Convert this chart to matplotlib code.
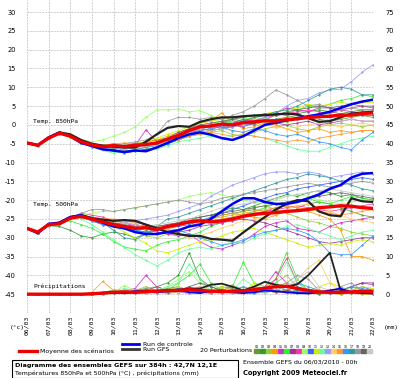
import matplotlib.pyplot as plt
import numpy as np
from matplotlib.lines import Line2D
from matplotlib.patches import Rectangle

# echeances toutes les 12h sur 384h
hours = list(range(0, 385, 12))
day_labels = ["06/03", "07/03", "08/03", "09/03", "10/03", "11/03", "12/03", "13/03", "14/03",
              "15/03", "16/03", "17/03", "18/03", "19/03", "20/03", "21/03", "22/03"]

# moyenne, controle, GFS - temperature 850hPa
t850_mean = [-4.8, -5.4, -3.5, -2.2, -3.0, -4.5, -5.3, -5.8, -5.5, -5.8, -5.4, -5.2, -4.8,
             -3.8, -2.8, -1.5, -0.5, -0.3, 0.2, 0.0, 0.6, 0.8, 1.1, 1.0, 1.4,
             1.6, 2.0, 2.2, 2.3, 2.6, 2.6, 3.0, 3.2]
t850_ctrl = [-4.8, -5.4, -3.3, -2.0, -3.0, -4.8, -5.6, -6.5, -6.8, -7.2, -6.8, -7.0, -6.0,
             -4.8, -3.5, -2.5, -2.0, -2.6, -3.5, -4.0, -3.0, -1.5, 0.0, 0.6, 1.2,
             1.8, 2.3, 2.8, 3.5, 4.5, 5.5, 6.2, 6.7]
t850_gfs = [-4.8, -5.5, -3.5, -2.0, -2.5, -4.0, -5.0, -5.5, -5.8, -6.0, -6.0, -4.5, -2.5,
            -0.8, -0.3, -0.5, 0.8, 1.5, 2.0, 2.0, 2.3, 2.5, 2.6, 2.8, 3.0,
            2.8, 1.8, 0.8, 1.0, 2.0, 3.0, 3.3, 3.5]

# moyenne, controle, GFS - temperature 500hPa
t500_mean = [-27.5, -28.5, -26.5, -26.3, -24.8, -24.3, -25.0, -25.8, -26.5, -27.0, -27.5, -27.3, -27.8,
             -27.0, -26.5, -25.8, -25.5, -25.8, -25.5, -25.0, -24.3, -23.8, -23.5, -23.3, -23.0,
             -22.8, -22.5, -22.0, -21.8, -21.5, -21.6, -22.0, -22.2]
t500_ctrl = [-27.5, -28.8, -26.3, -26.0, -24.5, -24.0, -25.0, -26.0, -27.0, -27.5, -28.5, -29.0, -29.0,
             -28.5, -28.0, -27.0, -26.5, -25.0, -23.0, -21.0, -19.5, -19.5, -20.5, -21.0, -21.0,
             -20.5, -19.5, -18.5, -17.0, -16.0, -14.0, -13.0, -12.8]
t500_gfs = [-27.5, -28.5, -26.5, -26.0, -24.5, -24.0, -24.8, -25.2, -25.5, -25.3, -25.5, -26.5, -27.5,
            -28.5, -29.0, -29.5, -29.5, -30.3, -30.5, -30.8, -28.6, -26.5, -24.5, -22.5, -21.0,
            -20.0, -20.3, -23.0, -24.0, -24.3, -19.5, -20.3, -20.5]

# precipitations (mm)
pr_mean = [0, 0, 0, 0, 0, 0, 0.1, 0.3, 0.5, 0.6, 0.5, 0.7, 0.8, 1.0, 1.0, 1.2, 1.0, 0.8, 0.7, 0.8,
           0.9, 1.2, 1.6, 2.0, 2.1, 1.5, 1.0, 0.6, 0.5, 0.5, 0.6, 0.8, 0.7]
pr_ctrl = [0, 0, 0, 0, 0, 0, 0, 0.2, 0.5, 0.3, 0.8, 1.0, 0.5, 0.8, 1.2, 0.5, 0.3, 0.8, 1.0, 0.5,
           0.3, 0.5, 1.0, 0.8, 0.5, 0.3, 0.2, 0.5, 1.0, 1.5, 0.5, 0.3, 0.2]
pr_gfs = [0, 0, 0, 0, 0, 0, 0, 0.3, 0.5, 0.3, 0.5, 0.5, 0.8, 1.0, 1.2, 1.5, 1.5, 2.5, 2.8, 2.0,
          1.0, 2.0, 3.3, 2.5, 2.0, 2.6, 5.0, 8.0, 11.0, 1.0, 0.5, 0.8, 0.5]

# 20 perturbations - 850hPa
t850_p01 = [-4.8, -5.3, -3.4, -2.3, -3.2, -4.6, -5.5, -6.0, -6.2, -5.8, -5.0, -4.5, -4.0, -3.5, -2.5, -1.0, -0.5, 0.0, 0.5, 1.0, 0.5, 0.0, 1.0, 1.5, 2.0, 2.5, 2.0, 1.5, 1.0, 1.5, 2.0, 2.5, 2.0]
t850_p02 = [-4.9, -5.5, -3.6, -2.1, -2.9, -4.3, -5.0, -5.5, -5.0, -5.5, -6.0, -5.5, -5.0, -4.0, -3.0, -2.0, -1.0, -1.5, -1.0, 0.0, 1.0, 2.0, 2.5, 3.0, 2.5, 3.0, 3.5, 4.0, 3.5, 3.0, 3.5, 4.0, 4.0]
t850_p03 = [-4.8, -5.4, -3.5, -2.4, -3.1, -4.7, -5.6, -6.5, -7.0, -6.5, -6.0, -6.5, -6.0, -5.0, -4.0, -3.0, -2.5, -2.0, -1.5, -2.5, -3.0, -2.0, -1.0, -0.5, 0.0, -1.0, -1.5, -0.5, 0.0, 0.5, 0.0, -0.5, 0.0]
t850_p04 = [-4.7, -5.3, -3.4, -2.2, -3.0, -4.4, -5.2, -5.5, -5.0, -4.8, -5.0, -4.5, -4.0, -3.0, -2.0, -1.0, 0.5, 1.0, 3.2, 0.5, -1.0, -0.5, 0.5, 0.0, -1.0, -2.0, -1.5, -1.0, -2.0, -1.5, -2.0, -1.5, -1.5]
t850_p05 = [-4.8, -5.4, -3.6, -2.3, -3.0, -4.5, -5.3, -5.6, -5.5, -6.0, -5.5, -1.3, -4.5, -3.5, -2.5, -1.5, -0.5, 0.0, -0.5, 0.5, 1.0, 1.5, 1.0, 3.0, 4.5, 4.0, 3.5, 4.5, 4.5, 4.0, 3.5, 3.0, 3.0]
t850_p06 = [-4.9, -5.5, -3.5, -2.1, -2.8, -4.2, -5.0, -5.8, -6.0, -6.8, -7.0, -6.5, -6.0, -5.0, -3.5, -2.0, -1.0, 0.0, 1.0, 0.5, 1.5, 2.0, 1.5, 2.5, 3.0, 4.0, 5.0, 4.5, 5.5, 6.5, 7.0, 8.0, 7.5]
t850_p07 = [-4.8, -5.4, -3.5, -2.2, -3.0, -4.6, -5.4, -6.0, -5.5, -6.0, -5.5, -5.0, -5.5, -4.5, -3.0, -2.0, -1.5, -1.0, -0.5, 0.0, -0.5, 0.5, 1.0, 0.5, 0.0, 0.5, 1.0, 0.0, 0.5, 1.0, 1.5, 1.0, 1.0]
t850_p08 = [-4.8, -5.4, -3.5, -2.2, -3.0, -4.5, -5.2, -5.5, -5.8, -5.5, -5.0, -5.5, -5.0, -4.0, -3.0, -2.0, -1.0, -0.5, 0.0, 0.5, 1.5, 1.0, 2.0, 2.5, 3.0, 3.5, 4.0, 3.5, 3.0, 4.0, 4.5, 5.0, 4.5]
t850_p09 = [-4.8, -5.4, -3.5, -2.2, -3.0, -4.0, -4.5, -4.0, -3.0, -2.0, -0.5, 2.0, 4.0, 4.0, 4.2, 3.5, 3.8, 2.5, 1.5, 1.0, 2.0, 1.5, 0.5, 1.0, 0.5, 1.5, 2.0, 3.0, 2.5, 2.0, 3.0, 3.5, 3.0]
t850_p10 = [-4.8, -5.4, -3.5, -2.2, -3.0, -4.8, -5.8, -6.5, -7.0, -7.5, -7.0, -6.5, -6.0, -5.0, -4.0, -3.0, -2.0, -1.5, -1.0, -0.5, 0.0, 0.5, 1.0, 1.5, 1.0, 1.5, 2.0, 2.5, 2.0, 2.5, 3.0, 2.5, 2.5]
t850_p11 = [-4.8, -5.4, -3.5, -2.2, -3.0, -4.4, -5.0, -5.5, -6.0, -5.5, -5.0, -4.5, -3.5, -2.5, -1.5, -0.5, 0.5, 1.0, 1.5, 2.0, 2.5, 2.0, 3.0, 3.5, 4.0, 4.5, 5.5, 5.0, 5.5, 6.0, 5.5, 6.0, 6.0]
t850_p12 = [-4.8, -5.4, -3.5, -2.2, -3.0, -4.9, -5.9, -6.8, -7.5, -7.0, -6.5, -6.0, -6.5, -5.5, -4.5, -4.0, -3.5, -3.0, -3.5, -3.0, -2.5, -3.0, -3.5, -4.5, -5.5, -6.5, -7.0, -7.0, -6.0, -5.0, -4.0, -3.5, -3.0]
t850_p13 = [-4.8, -5.4, -3.5, -2.2, -3.0, -4.5, -5.5, -6.0, -6.0, -6.5, -6.0, -5.5, -5.0, -4.0, -3.5, -2.5, -1.5, -1.0, 0.0, -0.5, 0.5, 1.0, 2.0, 3.0, 5.0, 6.5, 7.0, 8.5, 9.3, 9.5, 11.5, 14.0, 16.0]
t850_p14 = [-4.8, -5.4, -3.5, -2.2, -3.0, -4.6, -5.5, -6.0, -5.5, -6.0, -6.5, -6.0, -5.5, -4.5, -3.5, -2.5, -2.0, -1.5, -1.0, -1.5, -2.0, -1.0, 0.0, -0.5, -1.0, -0.5, 0.0, 0.5, 0.0, -0.5, 0.0, 0.5, 0.0]
t850_p15 = [-4.8, -5.4, -3.5, -2.2, -3.0, -4.3, -5.0, -5.3, -5.8, -5.5, -6.0, -5.8, -5.2, -4.5, -4.0, -3.0, -2.5, -2.0, -2.5, -3.0, -2.5, -3.0, -3.5, -4.0, -4.5, -4.0, -4.5, -3.5, -3.0, -2.5, -2.0, -1.5, -1.5]
t850_p16 = [-4.8, -5.4, -3.5, -2.2, -3.0, -4.7, -5.8, -6.2, -6.5, -6.0, -6.5, -6.0, -5.5, -4.5, -3.0, -2.0, -1.5, -1.0, -0.5, -1.5, -2.0, -1.0, -1.5, -2.5, -3.0, -2.5, -3.5, -4.5, -5.0, -6.0, -6.6, -4.0, -2.0]
t850_p17 = [-4.8, -5.4, -3.5, -2.2, -3.0, -4.5, -5.2, -5.8, -6.0, -5.5, -5.0, -5.5, -5.0, -4.0, -3.0, -1.5, -1.0, -0.5, 0.5, 1.5, 1.0, 2.0, 2.5, 3.5, 4.0, 5.0, 6.5, 8.0, 9.5, 10.0, 9.5, 8.0, 8.0]
t850_p18 = [-4.8, -5.4, -3.5, -2.2, -3.0, -4.4, -5.2, -5.5, -5.5, -5.0, -4.5, -4.0, -2.5, 1.0, 2.0, 2.0, 1.5, 2.0, 1.5, 2.5, 3.5, 5.0, 7.0, 9.3, 8.0, 6.5, 5.0, 5.5, 4.5, 4.0, 4.5, 4.0, 4.0]
t850_p19 = [-4.8, -5.4, -3.5, -2.2, -3.0, -4.5, -5.4, -5.8, -6.2, -6.0, -5.8, -5.5, -5.0, -3.5, -2.0, -1.0, 0.0, 0.5, 1.0, 1.5, 2.0, 2.5, 3.0, 2.5, 3.5, 4.0, 4.5, 5.0, 4.5, 5.0, 5.5, 5.0, 5.0]
t850_p20 = [-4.8, -5.4, -3.5, -2.2, -3.0, -4.6, -5.6, -6.2, -6.0, -6.5, -6.0, -5.5, -5.5, -4.5, -3.5, -2.0, -1.0, -0.5, 0.0, 0.5, 0.0, 1.0, 1.5, 1.0, 1.5, 2.0, 1.5, 1.0, 1.5, 1.0, 1.5, 1.0, 1.0]

# 20 perturbations - 500hPa
t500_p01 = [-27.5, -28.8, -26.5, -26.2, -24.8, -24.5, -25.0, -25.5, -26.5, -27.0, -27.5, -28.0, -27.5, -27.0, -26.5, -26.0, -25.5, -25.0, -24.0, -23.5, -23.0, -22.5, -23.0, -22.0, -21.5, -22.0, -21.0, -20.5, -21.0, -22.0, -23.0, -24.0, -24.5]
t500_p02 = [-27.5, -28.8, -26.8, -27.0, -28.0, -29.5, -30.0, -29.0, -28.5, -29.0, -30.0, -29.0, -28.0, -27.0, -26.0, -25.5, -24.5, -24.0, -23.0, -22.0, -22.5, -21.5, -20.5, -19.5, -18.5, -19.0, -18.0, -17.5, -18.0, -19.0, -18.5, -19.5, -20.0]
t500_p03 = [-27.5, -28.8, -26.5, -26.2, -24.8, -24.0, -24.5, -25.5, -26.0, -27.0, -28.0, -29.5, -30.0, -29.0, -28.5, -27.0, -26.0, -25.0, -24.5, -24.0, -23.0, -22.0, -21.5, -22.5, -23.5, -24.5, -25.5, -26.0, -27.0, -27.5, -28.5, -29.0, -29.5]
t500_p04 = [-27.5, -28.8, -26.5, -26.2, -24.8, -24.5, -25.0, -26.0, -26.5, -27.5, -28.0, -28.5, -29.0, -28.5, -28.0, -27.0, -26.5, -25.0, -24.0, -23.5, -24.0, -24.5, -25.0, -24.0, -23.0, -22.5, -23.0, -24.0, -25.0, -28.0, -35.0, -35.0, -36.0]
t500_p05 = [-27.5, -28.8, -26.5, -26.2, -24.8, -24.0, -24.5, -25.0, -25.5, -26.0, -27.0, -27.5, -28.5, -29.0, -29.5, -29.0, -31.0, -32.5, -33.0, -32.0, -31.0, -29.0, -27.0, -26.0, -25.5, -27.5, -28.0, -28.5, -27.0, -26.0, -25.5, -25.0, -24.5]
t500_p06 = [-27.5, -28.8, -26.5, -26.2, -25.5, -26.5, -27.5, -29.0, -31.0, -32.5, -33.0, -33.5, -32.0, -31.0, -30.5, -29.5, -28.5, -27.0, -26.0, -25.0, -24.0, -23.0, -22.0, -21.0, -20.5, -20.0, -19.5, -20.5, -21.0, -20.0, -19.0, -19.5, -20.0]
t500_p07 = [-27.5, -28.8, -26.5, -26.2, -24.8, -24.5, -25.5, -26.0, -26.5, -27.0, -26.5, -27.0, -27.5, -28.0, -28.5, -28.0, -27.0, -26.5, -26.0, -25.5, -25.0, -25.5, -26.0, -27.0, -28.0, -29.0, -30.0, -31.0, -31.5, -31.0, -30.5, -30.0, -30.0]
t500_p08 = [-27.5, -28.8, -26.5, -26.2, -24.8, -23.5, -24.0, -24.5, -25.5, -26.0, -26.5, -27.0, -27.0, -26.5, -26.0, -25.5, -25.0, -25.5, -26.0, -25.0, -24.0, -23.5, -23.0, -22.5, -22.0, -21.5, -22.0, -22.5, -23.0, -22.5, -22.0, -21.5, -21.0]
t500_p09 = [-27.5, -28.8, -26.5, -26.2, -24.8, -24.0, -23.5, -23.0, -23.0, -22.5, -22.0, -21.5, -21.0, -20.5, -20.0, -19.0, -18.5, -18.0, -18.5, -19.5, -20.0, -20.5, -21.0, -20.0, -19.0, -18.5, -19.0, -20.0, -20.5, -21.0, -20.5, -20.0, -19.5]
t500_p10 = [-27.5, -28.8, -26.5, -26.2, -24.8, -24.5, -25.5, -26.5, -27.0, -27.5, -28.0, -28.5, -28.0, -27.5, -27.0, -26.5, -25.5, -24.5, -23.5, -22.5, -21.5, -20.5, -19.5, -18.5, -18.0, -17.0, -16.5, -16.0, -15.5, -15.0, -14.5, -14.0, -14.5]
t500_p11 = [-27.5, -28.8, -26.5, -26.2, -24.8, -24.5, -25.0, -26.0, -27.0, -28.5, -30.0, -31.5, -33.5, -34.0, -33.0, -32.0, -31.0, -30.5, -29.5, -28.5, -28.0, -27.5, -28.5, -29.5, -30.5, -31.5, -32.5, -32.0, -31.5, -32.0, -31.0, -30.5, -31.0]
t500_p12 = [-27.5, -28.8, -26.5, -26.2, -24.8, -25.0, -26.5, -28.5, -30.5, -32.5, -34.5, -36.0, -37.5, -36.0, -34.0, -33.0, -32.5, -33.0, -32.0, -31.0, -31.5, -30.0, -29.0, -28.0, -27.0, -26.5, -27.5, -28.5, -29.5, -30.5, -29.5, -28.5, -28.0]
t500_p13 = [-27.5, -28.8, -26.5, -26.2, -24.8, -24.5, -25.0, -25.5, -26.5, -26.0, -25.5, -25.0, -24.5, -24.0, -23.0, -22.0, -21.0, -19.0, -17.5, -16.0, -15.0, -14.0, -13.0, -12.5, -12.5, -13.0, -12.5, -13.0, -14.0, -13.5, -13.0, -12.5, -13.0]
t500_p14 = [-27.5, -28.8, -26.5, -26.2, -24.8, -24.5, -25.5, -26.0, -25.5, -26.5, -27.0, -26.5, -27.5, -28.0, -29.0, -30.0, -29.5, -28.5, -27.5, -26.5, -25.5, -25.0, -24.5, -23.5, -22.5, -21.5, -21.0, -22.0, -23.0, -24.0, -25.0, -25.5, -26.0]
t500_p15 = [-27.5, -28.8, -26.5, -26.2, -24.8, -24.0, -24.5, -25.0, -25.0, -25.5, -26.0, -26.5, -27.0, -27.5, -28.0, -27.0, -26.0, -25.5, -25.0, -24.5, -23.5, -23.0, -22.5, -22.0, -21.5, -22.0, -22.5, -23.0, -23.5, -24.0, -23.5, -23.0, -22.5]
t500_p16 = [-27.5, -28.8, -26.5, -26.2, -24.8, -24.5, -25.5, -26.5, -27.0, -27.5, -28.0, -28.5, -29.0, -28.5, -28.0, -29.0, -30.0, -31.0, -32.0, -31.5, -30.5, -29.5, -28.5, -28.0, -27.5, -28.0, -29.0, -31.0, -34.0, -34.5, -34.5, -32.0, -29.5]
t500_p17 = [-27.5, -28.8, -26.5, -26.2, -24.8, -24.0, -24.5, -26.0, -28.0, -30.0, -30.5, -29.0, -27.0, -25.0, -24.5, -23.5, -22.5, -21.5, -20.5, -19.5, -18.5, -17.5, -16.5, -15.5, -14.5, -14.0, -13.0, -13.5, -14.0, -15.0, -16.0, -17.0, -17.5]
t500_p18 = [-27.5, -28.8, -26.5, -26.2, -24.8, -23.5, -22.5, -22.5, -23.0, -22.5, -22.0, -21.5, -21.0, -20.5, -20.0, -20.5, -21.0, -20.5, -19.5, -19.0, -18.5, -18.0, -17.5, -17.0, -16.5, -16.0, -15.5, -16.0, -16.5, -16.0, -15.5, -15.0, -15.5]
t500_p19 = [-27.5, -28.8, -26.5, -26.2, -24.8, -24.5, -25.0, -25.5, -26.0, -26.5, -27.0, -26.5, -27.0, -26.5, -26.0, -25.0, -24.5, -24.0, -23.5, -23.0, -22.5, -22.0, -21.5, -21.0, -20.5, -20.0, -19.5, -19.0, -18.5, -18.0, -18.5, -19.0, -19.5]
t500_p20 = [-27.5, -28.8, -26.5, -26.2, -24.8, -24.0, -24.5, -25.0, -25.5, -26.0, -26.5, -27.0, -26.5, -26.0, -25.5, -25.0, -24.0, -23.0, -22.0, -21.5, -21.0, -20.5, -20.0, -19.5, -19.0, -18.5, -18.0, -17.5, -17.0, -17.5, -18.0, -18.5, -19.0]

# 20 perturbations - precipitations
pr_p01 = [0, 0, 0, 0, 0, 0, 0, 0.5, 1, 0.5, 1, 0.5, 1, 1.5, 2, 1, 0.5, 1, 2, 1.5, 1, 2, 1.5, 1, 0.5, 1, 0.5, 0, 0.5, 1, 0.5, 0.5, 0]
pr_p02 = [0, 0, 0, 0, 0, 0, 0, 0.3, 0.5, 1, 0.5, 1, 2, 3, 5, 11, 4, 2, 1, 0.5, 1, 0.5, 1, 2, 1, 0.5, 0.5, 0, 0.5, 0, 0.5, 0.3, 0]
pr_p03 = [0, 0, 0, 0, 0, 0, 0, 0, 0.5, 0.5, 1, 2, 1, 0.5, 1, 1.5, 0.5, 1, 1.5, 2.5, 1, 0.5, 0.5, 3, 5, 2, 1, 0.5, 0.5, 1, 0.5, 0, 0]
pr_p04 = [0, 0, 0, 0, 0, 0, 0, 0, 0.3, 0.5, 0.3, 1, 0.5, 1, 0.5, 1, 2, 1, 0.5, 0.3, 0.5, 1, 2, 3, 1, 0.5, 0.3, 0.5, 0.2, 0, 0.3, 0, 0]
pr_p05 = [0, 0, 0, 0, 0, 0, 0, 0.2, 0.5, 1, 1.5, 5, 2, 1, 0.5, 1, 0.5, 0.3, 1, 0.5, 0.3, 1, 2, 6, 3, 1, 0.5, 0.3, 0.5, 1, 2, 3, 2.5]
pr_p06 = [0, 0, 0, 0, 0, 0, 0, 0.5, 1, 0.5, 1, 1.5, 2, 1, 3, 5, 8, 3, 1, 2, 8.5, 3, 2, 4, 11, 4, 1, 0.5, 1, 0.5, 2, 1, 0.5]
pr_p07 = [0, 0, 0, 0, 0, 0, 0, 0, 0.3, 0.5, 1, 0.5, 0.3, 1, 0.5, 1, 1.5, 0.5, 0.3, 0.5, 1, 0.5, 1, 0.5, 1, 2, 1, 0.5, 0.3, 1, 2, 3, 3]
pr_p08 = [0, 0, 0, 0, 0, 0, 0, 0, 0.5, 0.3, 0.5, 1, 2, 1, 0.5, 0.3, 1, 0.5, 1, 2, 1, 0.5, 1, 4, 9.5, 3, 1, 0.5, 0.3, 0.5, 1, 0.5, 0.3]
pr_p09 = [0, 0, 0, 0, 0, 0, 0, 0.3, 0.5, 2.3, 1, 0.5, 1, 2, 4, 6, 3, 1, 0.5, 1, 2, 1, 0.5, 1, 2, 1.5, 1, 0.5, 1, 0.5, 1, 2, 1.5]
pr_p10 = [0, 0, 0, 0, 0, 0, 0, 0.2, 0.5, 0.3, 0.5, 1, 0.5, 0.3, 0.5, 1, 0.5, 1, 0.5, 0.3, 0.5, 1, 1.5, 1, 0.5, 0.3, 1, 0.5, 0.3, 0.5, 1, 2, 1]
pr_p11 = [0, 0, 0, 0, 0, 0, 0, 0, 0.5, 1, 0.5, 1, 0.5, 1, 2, 1, 0.5, 1, 2, 1, 0.5, 3, 1, 2, 3, 1.5, 1, 2, 3, 2, 1, 2, 1.5]
pr_p12 = [0, 0, 0, 0, 0, 0, 0, 0.3, 1, 1.5, 1, 0.5, 1, 2, 3, 8, 4, 1, 0.5, 1, 4, 2, 1, 3, 8.5, 3, 1, 0.5, 1, 0.5, 1, 0.5, 1]
pr_p13 = [0, 0, 0, 0, 0, 0, 0, 0.2, 0.5, 0.3, 0.5, 0.3, 0.5, 1, 0.5, 0.3, 0.5, 1, 0.5, 0.3, 0.5, 0.3, 0.5, 1, 0.5, 0.3, 0.5, 1, 0.5, 0.3, 0.5, 0.3, 0.2]
pr_p14 = [0, 0, 0, 0, 0, 0, 0, 0.3, 0.5, 0.3, 0.5, 1, 0.5, 1, 0.5, 2, 1, 0.5, 1, 0.5, 1, 2, 1, 0.5, 1, 4, 7, 9, 3, 1, 0.5, 1, 0.5]
pr_p15 = [0, 0, 0, 0, 0, 0, 0.5, 3.4, 1, 0.5, 0.5, 1, 0.5, 0.3, 0.5, 1, 0.5, 0.3, 1, 0.5, 0.3, 0.5, 1, 0.5, 0.3, 1, 0.5, 0.3, 0.5, 1, 0.5, 0.3, 0.5]
pr_p16 = [0, 0, 0, 0, 0, 0, 0, 0.3, 0.5, 1, 0.5, 0.3, 0.5, 1, 1.5, 1, 0.5, 0.3, 0.5, 1, 2, 1, 0.5, 1, 2, 3, 2, 1, 0.5, 1, 2, 1.5, 1]
pr_p17 = [0, 0, 0, 0, 0, 0, 0, 0.2, 0.5, 1, 0.5, 1, 0.5, 1, 1.5, 1, 0.5, 1, 0.5, 1, 0.5, 0.3, 0.5, 1, 0.5, 1, 0.5, 0.3, 0.5, 0.3, 0.5, 0.3, 0.2]
pr_p18 = [0, 0, 0, 0, 0, 0, 0, 0.3, 0.5, 0.3, 1, 1.5, 1, 0.5, 1, 2, 1, 0.5, 1, 0.5, 1, 2, 1, 2, 3, 5, 4, 1, 0.5, 2, 3, 1, 0.5]
pr_p19 = [0, 0, 0, 0, 0, 0, 0, 0.2, 0.3, 0.5, 0.3, 0.5, 1, 0.5, 1, 2, 3, 2, 1, 0.5, 1, 0.5, 1, 0.5, 1, 0.5, 0.3, 0.5, 1, 0.5, 0.3, 0.5, 0.3]
pr_p20 = [0, 0, 0, 0, 0, 0, 0, 0.3, 0.5, 1, 0.5, 0.3, 0.5, 1, 0.5, 1, 2, 1, 0.5, 0.3, 1, 0.5, 0.3, 1, 2, 4, 6, 2, 1, 0.5, 1, 0.5, 0.3]

t850_perts = [t850_p01, t850_p02, t850_p03, t850_p04, t850_p05, t850_p06, t850_p07, t850_p08, t850_p09, t850_p10,
              t850_p11, t850_p12, t850_p13, t850_p14, t850_p15, t850_p16, t850_p17, t850_p18, t850_p19, t850_p20]
t500_perts = [t500_p01, t500_p02, t500_p03, t500_p04, t500_p05, t500_p06, t500_p07, t500_p08, t500_p09, t500_p10,
              t500_p11, t500_p12, t500_p13, t500_p14, t500_p15, t500_p16, t500_p17, t500_p18, t500_p19, t500_p20]
pr_perts = [pr_p01, pr_p02, pr_p03, pr_p04, pr_p05, pr_p06, pr_p07, pr_p08, pr_p09, pr_p10,
            pr_p11, pr_p12, pr_p13, pr_p14, pr_p15, pr_p16, pr_p17, pr_p18, pr_p19, pr_p20]

pert_colors = ["#669933", "#339933", "#99cc33", "#ff9900", "#cc33cc", "#33ee33", "#993399", "#ff3399",
               "#99ff66", "#3366ff", "#ccee00", "#66ff99", "#9999ff", "#ffcc66", "#ff9933", "#3399ff",
               "#339999", "#999999", "#666666", "#c8c8c8"]

plt.rcParams["font.family"] = "DejaVu Sans"

W, H = 400, 378
fig = plt.figure(figsize=(W / 100, H / 100), dpi=100)


def fx(px):
    return px / W


def fy(py):
    return 1 - py / H


ax = fig.add_axes([fx(27), fy(313), fx(373) - fx(27), fy(0) - fy(313)])
ax2 = ax.twinx()

x = np.array(hours) / 24.0

# perturbations fines
for i in range(20):
    ax.plot(x, t850_perts[i], color=pert_colors[i], lw=0.55, marker=".", ms=1.2, zorder=2)
    ax.plot(x, t500_perts[i], color=pert_colors[i], lw=0.55, marker=".", ms=1.2, zorder=2)
    ax2.plot(x, pr_perts[i], color=pert_colors[i], lw=0.55, marker=".", ms=1.2, zorder=2)

# GFS, controle, moyenne
for ser in (t850_gfs, t500_gfs):
    ax.plot(x, ser, color="#222222", lw=1.6, zorder=3)
ax2.plot(x, pr_gfs, color="#222222", lw=1.3, zorder=3)
for ser in (t850_ctrl, t500_ctrl):
    ax.plot(x, ser, color="#0000ee", lw=1.8, zorder=4)
ax2.plot(x, pr_ctrl, color="#0000ee", lw=1.3, zorder=4)
for ser in (t850_mean, t500_mean):
    ax.plot(x, ser, color="#ee0000", lw=2.4, zorder=5)
ax2.plot(x, pr_mean, color="#ee0000", lw=2.4, zorder=5)

ax.set_xlim(0, 16)
ax.set_ylim(-50, 33.2)
ax2.set_ylim(-5, 78.2)

ax.set_xticks(range(17))
ax.set_xticklabels(day_labels, rotation=90, fontsize=4.6, family="DejaVu Sans Mono")
ax.set_yticks(range(-50, 31, 5))
ax.set_yticklabels(["" if v == -50 else str(v) for v in range(-50, 31, 5)], fontsize=4.8)
ax2.set_yticks(range(0, 76, 5))
ax2.set_yticklabels([str(v) for v in range(0, 76, 5)], fontsize=4.8)
ax.tick_params(axis="both", length=0, pad=8)
ax.tick_params(axis="x", pad=2)
ax2.tick_params(axis="y", length=0, pad=9)
ax.grid(True, color="#cfcfcf", lw=0.7, ls=(0, (2, 1)))
ax.set_axisbelow(True)
for a in (ax, ax2):
    for s in a.spines.values():
        s.set_visible(False)

ax.text(0.28, 0.3, "Temp. 850hPa", fontsize=4.5, family="DejaVu Sans Mono", va="bottom", zorder=6)
ax.text(0.28, -21.7, "Temp. 500hPa", fontsize=4.5, family="DejaVu Sans Mono", va="bottom", zorder=6)
ax.text(0.28, -43.7, "Précipitations", fontsize=4.5, family="DejaVu Sans Mono", va="bottom", zorder=6)

fig.text(fx(10), fy(327), "(°c)", fontsize=4.5, family="DejaVu Sans Mono", va="center")
fig.text(fx(384), fy(327), "(mm)", fontsize=4.5, family="DejaVu Sans Mono", va="center")

# legende
fig.add_artist(Line2D([fx(19), fx(37)], [fy(351), fy(351)], color="#ee0000", lw=2.4))
fig.text(fx(40), fy(351), "Moyenne des scénarios", fontsize=4.5, va="center")
fig.add_artist(Line2D([fx(122), fx(139)], [fy(344), fy(344)], color="#0000ee", lw=2))
fig.text(fx(143), fy(344), "Run de controle", fontsize=4.5, va="center")
fig.add_artist(Line2D([fx(122), fx(139)], [fy(349), fy(349)], color="#333333", lw=2))
fig.text(fx(143), fy(349.5), "Run GFS", fontsize=4.5, va="center")
fig.text(fx(200), fy(350), "20 Perturbations", fontsize=4.5, va="center")
for i in range(20):
    bx = 254 + i * 5.95
    fig.add_artist(Rectangle((fx(bx), fy(353)), fx(5.2), fy(349) - fy(353), color=pert_colors[i],
                             transform=fig.transFigure))
    fig.text(fx(bx + 2.6), fy(346.5), "%02d" % (i + 1), fontsize=2.3, ha="center", va="center")

fig.add_artist(Rectangle((fx(12), fy(378)), fx(226), fy(360) - fy(378), fill=False, ec="black", lw=0.8,
                         transform=fig.transFigure))
fig.text(fx(15), fy(365.5), "Diagramme des ensembles GEFS sur 384h : 42,7N 12,1E", fontsize=4.6,
         weight="bold", va="center")
fig.text(fx(15), fy(373.5), "Températures 850hPa et 500hPa (°C) , précipitations (mm)", fontsize=4.5,
         va="center")
fig.text(fx(243), fy(362), "Ensemble GEFS du 06/03/2010 - 00h", fontsize=4.5, va="center")
fig.text(fx(243), fy(373), "Copyright 2009 Meteociel.fr", fontsize=4.8, weight="bold", va="center")

fig.savefig("out.png", dpi=100)
